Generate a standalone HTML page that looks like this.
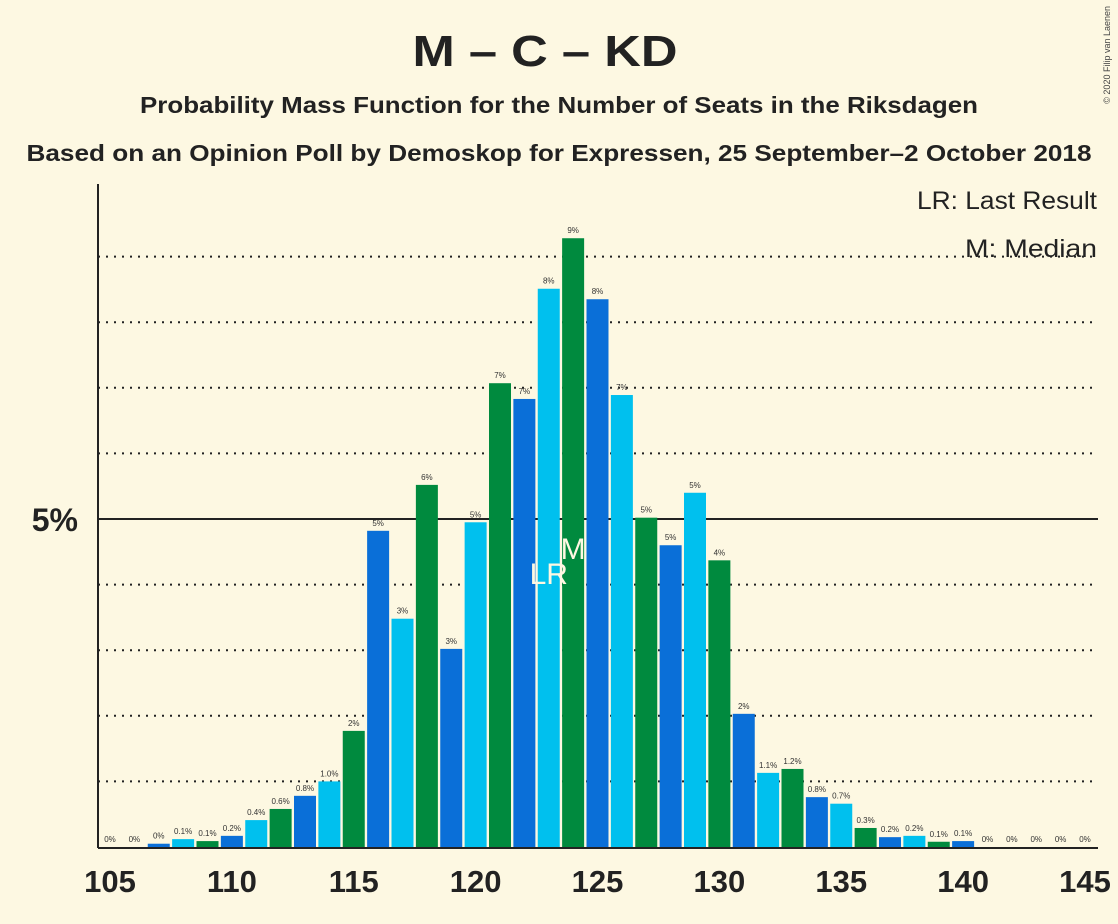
<!DOCTYPE html>
<html><head><meta charset="utf-8"><style>
body{margin:0;background:#fdf8e2;}
svg{display:block;font-family:"Liberation Sans",sans-serif;}
</style></head><body>
<svg id="chart" width="1118" height="924" viewBox="0 0 1118 924">
<rect width="1118" height="924" fill="#fdf8e2"/>
<text x="545" y="66" text-anchor="middle" font-size="44" font-weight="bold" fill="#222" textLength="265" lengthAdjust="spacingAndGlyphs">M – C – KD</text>
<text x="559" y="113" text-anchor="middle" font-size="23" font-weight="bold" fill="#222" textLength="838" lengthAdjust="spacingAndGlyphs">Probability Mass Function for the Number of Seats in the Riksdagen</text>
<text x="559" y="161" text-anchor="middle" font-size="23" font-weight="bold" fill="#222" textLength="1065" lengthAdjust="spacingAndGlyphs">Based on an Opinion Poll by Demoskop for Expressen, 25 September–2 October 2018</text>
<text x="1110" y="6" transform="rotate(-90 1110 6)" text-anchor="end" font-size="9" fill="#444">© 2020 Filip van Laenen</text>
<g id="grid"></g>
<g id="bars"></g>
<line x1="98" y1="184" x2="98" y2="848" stroke="#222" stroke-width="2"/>
<line x1="98" y1="848" x2="1098" y2="848" stroke="#222" stroke-width="2"/>
<text x="78" y="531" text-anchor="end" font-size="32" font-weight="bold" fill="#222">5%</text>
<g id="xticks"></g>
<text x="1097" y="209" text-anchor="end" font-size="25" fill="#222" textLength="180" lengthAdjust="spacingAndGlyphs">LR: Last Result</text>
<text x="1097" y="257" text-anchor="end" font-size="25" fill="#222" textLength="132" lengthAdjust="spacingAndGlyphs">M: Median</text>
</svg>
<script>
const seats=[105,106,107,108,109,110,111,112,113,114,115,116,117,118,119,120,121,122,123,124,125,126,127,128,129,130,131,132,133,134,135,136,137,138,139,140,141,142,143,144,145];
const probs=[0,0,0.05,0.12,0.09,0.17,0.41,0.58,0.78,1.0,1.77,4.82,3.48,5.52,3.02,4.95,7.07,6.83,8.51,9.28,8.35,6.89,5.02,4.6,5.4,4.37,2.03,1.13,1.19,0.76,0.66,0.29,0.15,0.17,0.08,0.09,0,0,0,0,0];
const labels=["0%","0%","0%","0.1%","0.1%","0.2%","0.4%","0.6%","0.8%","1.0%","2%","5%","3%","6%","3%","5%","7%","7%","8%","9%","8%","7%","5%","5%","5%","4%","2%","1.1%","1.2%","0.8%","0.7%","0.3%","0.2%","0.2%","0.1%","0.1%","0%","0%","0%","0%","0%"];
const xTicks=[105,110,115,120,125,130,135,140,145];
const gridVals=[1,2,3,4,6,7,8,9];
const lastResult=123, median=124;
const NS="http://www.w3.org/2000/svg";
const X=s=>110+(s-105)*24.375;
const Y=p=>847-p*65.6;
const colors=["#0a6fd8","#00c0ee","#008a3e"];
function el(t,a,p){const e=document.createElementNS(NS,t);for(const k in a)e.setAttribute(k,a[k]);p.appendChild(e);return e;}
const grid=document.getElementById('grid'),bars=document.getElementById('bars'),xt=document.getElementById('xticks');
gridVals.forEach(v=>{const l=el('line',{x1:98,x2:1098,y1:Y(v),y2:Y(v),stroke:'#222','stroke-width':2,'stroke-dasharray':'2,6'},grid);

});
const l5=el('line',{x1:98,x2:1098,y1:Y(5),y2:Y(5),stroke:'#222','stroke-width':2},grid);


seats.forEach((s,i)=>{const p=probs[i];const cx=X(s);
if(p>0){const r=el('rect',{x:cx-11,y:Y(p),width:22,height:847-Y(p),fill:colors[((s-107)%3+3)%3]},bars);

}
const t=el('text',{x:cx,y:Y(p)-5,'text-anchor':'middle','font-size':8,fill:'#333'},bars);t.textContent=labels[i];

});
let t=el('text',{x:X(lastResult),y:584,'text-anchor':'middle','font-size':30,fill:'#fdf8e2'},bars);t.textContent='LR';


t=el('text',{x:X(median),y:559,'text-anchor':'middle','font-size':30,fill:'#fdf8e2'},bars);t.textContent='M';


xTicks.forEach(s=>{const e=el('text',{x:X(s),y:892,'text-anchor':'middle','font-size':31,'font-weight':'bold',fill:'#222'},xt);e.textContent=s;

});
</script>
</body></html>
